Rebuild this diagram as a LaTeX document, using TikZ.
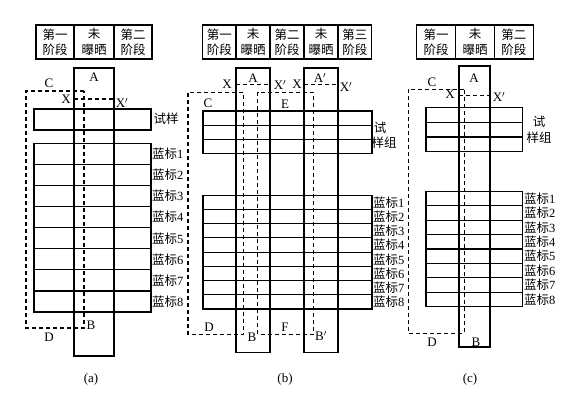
\documentclass[tikz,border=0pt]{standalone}
\usepackage{fontspec}
\setmainfont{Liberation Serif}
\newfontfamily\cjk{Noto Sans CJK SC}
\begin{document}
\begin{tikzpicture}[x=1pt,y=-1pt,
  box/.style={draw, line width=1.1pt},
  dline/.style={draw, line width=1.1pt, dash pattern=on 4pt off 3pt},
  hcell/.style={draw, line width=1.1pt, inner sep=0pt, align=center,
    font=\cjk\fontsize{12.5}{15.5}\selectfont},
  lbl/.style={inner sep=0pt, font=\fontsize{13}{15}\selectfont},
  clbl/.style={inner sep=0pt, font=\cjk\fontsize{12.5}{15}\selectfont},
  blbl/.style={inner sep=0pt, anchor=west, font=\fontsize{12.5}{14}\selectfont}]
\useasboundingbox (0,0) rectangle (588,405);

% ================= (a) =================
\node[hcell, minimum width=38pt, minimum height=34pt] (ah1) at (55,42) {第一\\阶段};
\node[hcell, minimum width=40pt, minimum height=34pt] (ah2) at (94,42) {未\\曝晒};
\node[hcell, minimum width=38pt, minimum height=34pt] (ah3) at (133,42) {第二\\阶段};
\draw[box] (74,68) rectangle (114,356);
\draw[box] (34,109) rectangle (151,130);
\draw[box] (34,143.3) rectangle (151,312);
\foreach \i in {1,...,7} \draw[box] (34,{143.3+21.1*\i}) -- (151,{143.3+21.1*\i});
\draw[dline] (84,91) -- (26,91) -- (26,328) -- (84,328) -- cycle;
\draw[dline] (74,99) -- (114,99);
\node[lbl] (aA) at (94,77.5) {A};
\node[lbl] (aC) at (49,83) {C};
\node[lbl] (aX) at (66,99) {X};
\node[lbl] (aXp) at (122,103) {X$'$};
\node[lbl] (aB) at (91,325) {B};
\node[lbl] (aD) at (49,337) {D};
\node[clbl] (aS) at (166,119) {试样};
\foreach \i in {1,...,8} \node[blbl] (ab\i) at (152,{143.3+21.1*(\i-0.5)}) {{\cjk 蓝标}\i};
\node[lbl] (acap) at (91,379) {(a)};

% ================= (b) =================
\node[hcell, minimum width=33.3pt, minimum height=34pt] (bh1) at (219.35,42) {第一\\阶段};
\node[hcell, minimum width=34pt, minimum height=34pt] (bh2) at (253,42) {未\\曝晒};
\node[hcell, minimum width=34pt, minimum height=34pt] (bh3) at (287,42) {第二\\阶段};
\node[hcell, minimum width=34pt, minimum height=34pt] (bh4) at (321,42) {未\\曝晒};
\node[hcell, minimum width=33.7pt, minimum height=34pt] (bh5) at (354.85,42) {第三\\阶段};
\draw[box] (236,68) rectangle (270,352.3);
\draw[box] (304,68) rectangle (338,352.3);
\draw[box] (203,111) rectangle (372,153.3);
\draw[box] (203,125.1) -- (372,125.1);
\draw[box] (203,139.2) -- (372,139.2);
\draw[box] (203,195.3) rectangle (372,309);
\foreach \i in {1,...,7} \draw[box] (203,{195.3+14.21*\i}) -- (372,{195.3+14.21*\i});
\draw[dline] (243.3,92.3) -- (188,92.3) -- (188,334.3) -- (243.3,334.3) -- cycle;
\draw[dline] (257.7,92.3) rectangle (313.3,334.3);
\draw[dline] (236,84.3) -- (270,84.3);
\draw[dline] (304,84.3) -- (338,84.3);
\node[lbl] (bX1) at (227,84) {X};
\node[lbl] (bA) at (253,78) {A};
\node[lbl] (bXp1) at (280,85) {X$'$};
\node[lbl] (bX2) at (297,84) {X};
\node[lbl] (bAp) at (320,78) {A$'$};
\node[lbl] (bXp2) at (346,87) {X$'$};
\node[lbl] (bC) at (208,103) {C};
\node[lbl] (bE) at (285,104) {E};
\node[lbl] (bD) at (209,327) {D};
\node[lbl] (bB) at (252,337) {B};
\node[lbl] (bF) at (285,327) {F};
\node[lbl] (bBp) at (321,336) {B$'$};
\node[clbl] (bS1) at (380,128) {试};
\node[clbl] (bS2) at (384,143) {样组};
\foreach \i in {1,...,8} \node[blbl] (bb\i) at (373,{195.3+14.21*(\i-0.5)}) {{\cjk 蓝标}\i};
\node[lbl] (bcap) at (285,379) {(b)};

% ================= (c) =================
\node[hcell, minimum width=39pt, minimum height=34pt] (ch1) at (436.2,42) {第一\\阶段};
\node[hcell, minimum width=38.6pt, minimum height=34pt] (ch2) at (475,42) {未\\曝晒};
\node[hcell, minimum width=39pt, minimum height=34pt] (ch3) at (513.8,42) {第二\\阶段};
\draw[box] (459,66) rectangle (490,347);
\draw[box] (426,107.7) rectangle (522.3,151.7);
\draw[box] (426,122.4) -- (522.3,122.4);
\draw[box] (426,137) -- (522.3,137);
\draw[box] (426,191.3) rectangle (522.3,306.7);
\foreach \i in {1,...,7} \draw[box] (426,{191.3+14.42*\i}) -- (522.3,{191.3+14.42*\i});
\draw[dline] (464.3,89.3) -- (408.3,89.3) -- (408.3,333.3) -- (464.3,333.3) -- cycle;
\draw[dline] (459,95.7) -- (490,95.7);
\node[lbl] (cC) at (432,82) {C};
\node[lbl] (cX) at (450,94) {X};
\node[lbl] (cA) at (474,78) {A};
\node[lbl] (cXp) at (499,97) {X$'$};
\node[lbl] (cD) at (432,342) {D};
\node[lbl] (cB) at (476,342) {B};
\node[clbl] (cS1) at (539,122) {试};
\node[clbl] (cS2) at (539,138) {样组};
\foreach \i in {1,...,8} \node[blbl] (cb\i) at (524,{191.3+14.42*(\i-0.5)}) {{\cjk 蓝标}\i};
\node[lbl] (ccap) at (470,379) {(c)};
\end{tikzpicture}
\end{document}
